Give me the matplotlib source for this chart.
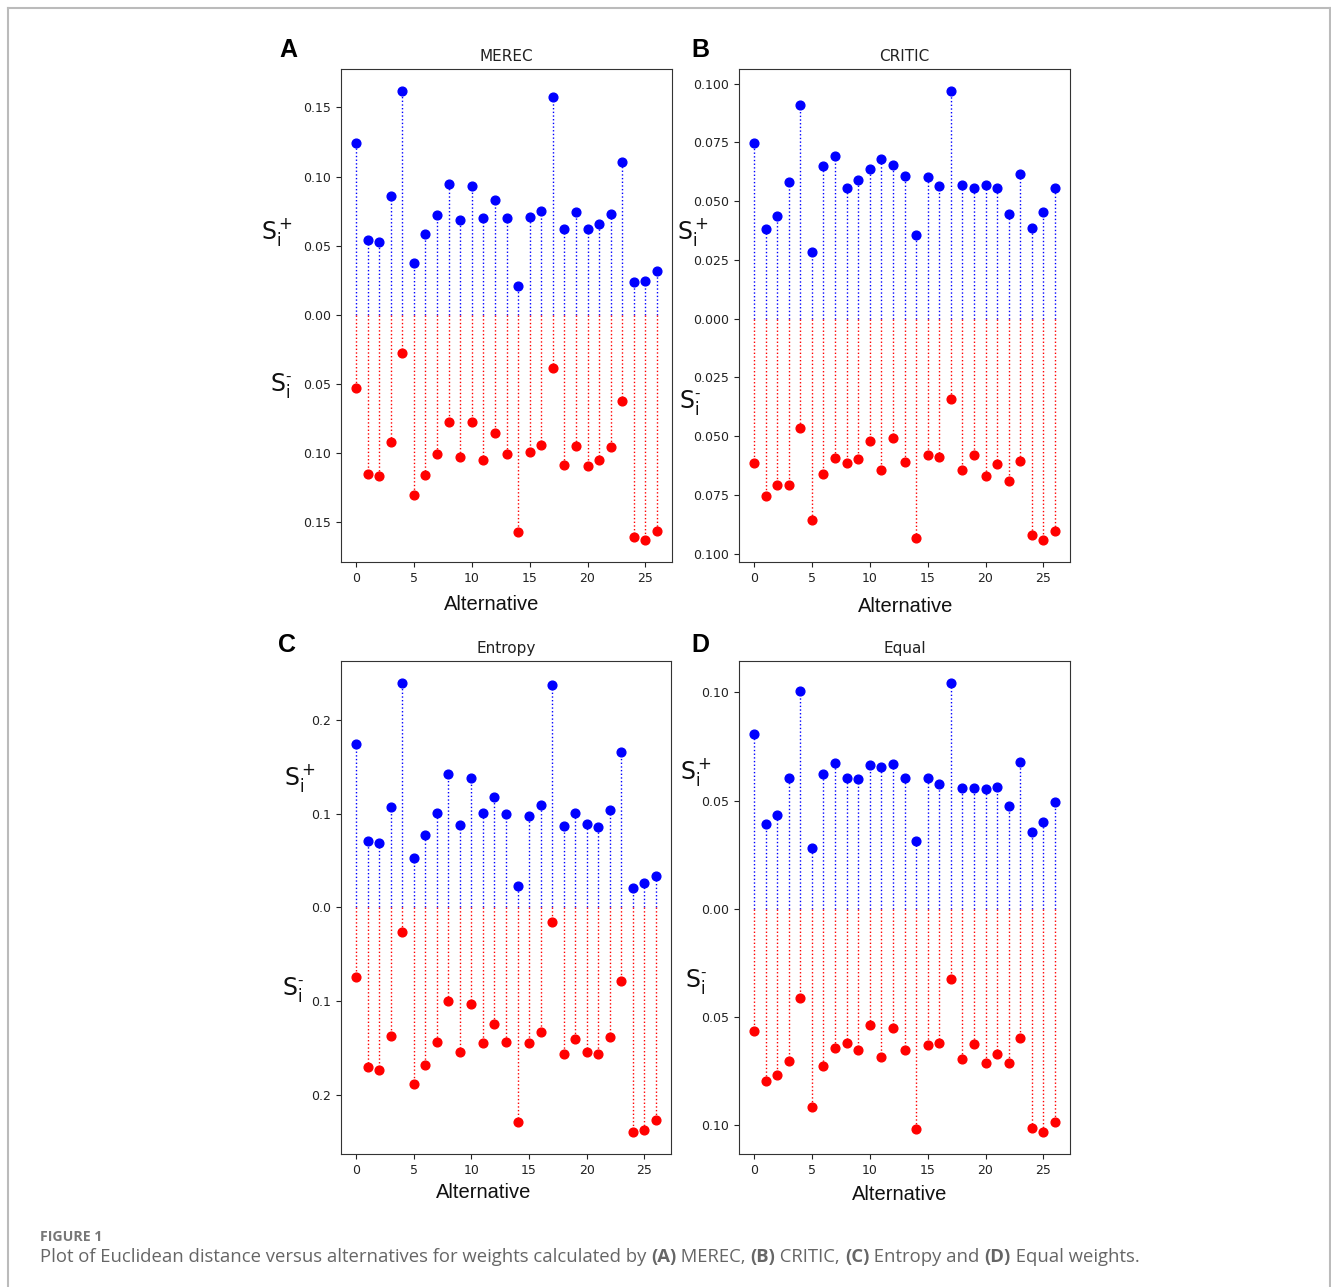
import numpy as np
import matplotlib
matplotlib.use('Agg')
import matplotlib.pyplot as plt
from matplotlib.ticker import MultipleLocator, FuncFormatter
from matplotlib.lines import Line2D

plt.rcParams['mathtext.fontset'] = 'custom'
plt.rcParams['mathtext.rm'] = 'Liberation Sans'
plt.rcParams['mathtext.it'] = 'Liberation Sans'

# номера альтернатив
alternatives = np.arange(27)

# MEREC
merec_plus = [0.1246, 0.0541, 0.0527, 0.0857, 0.1616, 0.0372, 0.0582, 0.0720, 0.0949,
              0.0684, 0.0935, 0.0703, 0.0833, 0.0698, 0.0210, 0.0705, 0.0754, 0.1575,
              0.0618, 0.0746, 0.0623, 0.0657, 0.0727, 0.1109, 0.0239, 0.0246, 0.0316]
merec_minus = [0.0529, 0.1151, 0.1166, 0.0918, 0.0274, 0.1305, 0.1159, 0.1007, 0.0772,
               0.1026, 0.0772, 0.1053, 0.0853, 0.1007, 0.1567, 0.0988, 0.0938, 0.0385,
               0.1084, 0.0945, 0.1094, 0.1048, 0.0957, 0.0625, 0.1608, 0.1625, 0.1560]

# CRITIC
critic_plus = [0.0749, 0.0381, 0.0438, 0.0582, 0.0909, 0.0285, 0.0649, 0.0691, 0.0557,
               0.0591, 0.0635, 0.0680, 0.0656, 0.0606, 0.0357, 0.0602, 0.0564, 0.0967,
               0.0569, 0.0557, 0.0567, 0.0554, 0.0445, 0.0615, 0.0387, 0.0452, 0.0555]
critic_minus = [0.0613, 0.0755, 0.0709, 0.0706, 0.0465, 0.0858, 0.0662, 0.0593, 0.0616,
                0.0599, 0.0522, 0.0645, 0.0509, 0.0609, 0.0933, 0.0579, 0.0587, 0.0342,
                0.0645, 0.0580, 0.0668, 0.0617, 0.0692, 0.0606, 0.0921, 0.0940, 0.0902]

# Entropy
entropy_plus = [0.1740, 0.0713, 0.0692, 0.1073, 0.2392, 0.0528, 0.0777, 0.1012, 0.1426,
                0.0881, 0.1387, 0.1005, 0.1184, 0.1002, 0.0232, 0.0980, 0.1094, 0.2374,
                0.0873, 0.1012, 0.0895, 0.0859, 0.1037, 0.1661, 0.0203, 0.0257, 0.0339]
entropy_minus = [0.0739, 0.1705, 0.1737, 0.1371, 0.0266, 0.1890, 0.1687, 0.1435, 0.0998,
                 0.1545, 0.1034, 0.1449, 0.1247, 0.1435, 0.2288, 0.1446, 0.1329, 0.0160,
                 0.1563, 0.1407, 0.1545, 0.1567, 0.1385, 0.0785, 0.2394, 0.2377, 0.2266]

# Equal
equal_plus = [0.0806, 0.0390, 0.0432, 0.0604, 0.1008, 0.0281, 0.0621, 0.0673, 0.0604,
              0.0599, 0.0664, 0.0654, 0.0671, 0.0604, 0.0312, 0.0605, 0.0578, 0.1041,
              0.0558, 0.0558, 0.0553, 0.0561, 0.0473, 0.0680, 0.0353, 0.0402, 0.0495]
equal_minus = [0.0564, 0.0795, 0.0766, 0.0704, 0.0411, 0.0914, 0.0726, 0.0641, 0.0622,
               0.0652, 0.0538, 0.0686, 0.0549, 0.0652, 0.1018, 0.0627, 0.0622, 0.0322,
               0.0696, 0.0626, 0.0713, 0.0669, 0.0713, 0.0596, 0.1012, 0.1029, 0.0986]

W, H = 1331, 1287


def px_box(x0, y0, x1, y1):
    # пиксели -> доли фигуры
    return [x0 / W, 1 - y1 / H, (x1 - x0) / W, (y1 - y0) / H]


panels = [
    ('A', 'MEREC', merec_plus, merec_minus, 0.05, 2, px_box(341, 69, 672, 562),
     (288, 50), (492, 605), (277, 232), (281, 385)),
    ('B', 'CRITIC', critic_plus, critic_minus, 0.025, 3, px_box(739, 69, 1070, 562),
     (700, 50), (906, 607), (693, 232), (690, 402)),
    ('C', 'Entropy', entropy_plus, entropy_minus, 0.1, 1, px_box(341, 661, 671, 1154),
     (287, 645), (484, 1192), (300, 778), (293, 990)),
    ('D', 'Equal', equal_plus, equal_minus, 0.05, 2, px_box(739, 661, 1070, 1154),
     (700, 645), (900, 1195), (696, 772), (696, 982)),
]

fig = plt.figure(figsize=(W / 100, H / 100), dpi=100)


def fpos(p):
    return p[0] / W, 1 - p[1] / H


for letter, title, plus, minus, step, dec, box, lpos, xlpos, yp_pos, ym_pos in panels:
    ax = fig.add_axes(box)
    plus = np.array(plus)
    minus = -np.array(minus)
    ax.vlines(alternatives, 0, plus, colors='blue', linestyles=':', linewidth=1)
    ax.vlines(alternatives, 0, minus, colors='red', linestyles=':', linewidth=1)
    ax.plot(alternatives, plus, 'o', color='blue', ms=6.3, zorder=3)
    ax.plot(alternatives, minus, 'o', color='red', ms=6.3, zorder=3)
    ax.xaxis.set_major_locator(MultipleLocator(5))
    ax.yaxis.set_major_locator(MultipleLocator(step))
    ax.yaxis.set_major_formatter(FuncFormatter(lambda v, p, d=dec: f'{abs(v):.{d}f}'))
    ax.tick_params(labelsize=9, colors='#222222')
    for s in ax.spines.values():
        s.set_color('#333333')
    ax.set_title(title, fontsize=11, color='#222222')

    fig.text(*fpos(lpos), letter, fontsize=18, fontweight='bold',
             family='Liberation Sans', ha='center', va='center')
    fig.text(*fpos(xlpos), 'Alternative', fontsize=14.5, family='Liberation Sans',
             ha='center', va='center', color='#111111')
    fig.text(*fpos(yp_pos), r'$\mathregular{S_i^+}$', fontsize=17,
             ha='center', va='center', color='#111111')
    fig.text(*fpos(ym_pos), r'$\mathregular{S_i^{\text{-}}}$', fontsize=17,
             ha='center', va='center', color='#111111')

# рамка
for xs, ys in [([7.5, 7.5], [7.5, H]), ([1330, 1330], [7.5, H]), ([7.5, 1330], [7.5, 7.5])]:
    fig.add_artist(Line2D([x / W for x in xs], [1 - y / H for y in ys],
                          color='#bbbbbb', linewidth=1.5, transform=fig.transFigure))

# подпись
cap_color = '#666666'
fig.text(40 / W, 1 - 1237 / H, 'FIGURE 1', fontsize=10.2, fontweight='bold',
         family='Open Sans', color='#777777', va='center')

pieces = [('Plot of Euclidean distance versus alternatives for weights calculated by ', 'normal'),
          ('(A)', 'bold'), (' MEREC, ', 'normal'), ('(B)', 'bold'), (' CRITIC, ', 'normal'),
          ('(C)', 'bold'), (' Entropy and ', 'normal'), ('(D)', 'bold'),
          (' Equal weights.', 'normal')]
renderer = fig.canvas.get_renderer()
x_px = 40
for txt, wgt in pieces:
    t = fig.text(x_px / W, 1 - 1262 / H, txt, fontsize=13.3, family='Open Sans',
                 fontweight=wgt, color=cap_color, va='baseline', ha='left')
    x_px = t.get_window_extent(renderer).x1

fig.savefig('out.png', dpi=100)
